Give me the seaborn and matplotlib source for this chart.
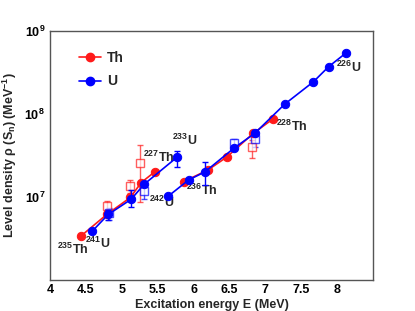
import matplotlib
matplotlib.use('Agg')
import matplotlib.pyplot as plt
import matplotlib.ticker as mticker
from matplotlib.lines import Line2D
import numpy as np
import pandas as pd
import seaborn as sns

# Th chain, filled points (two branches)
th_a_E = [4.43, 4.79, 5.12, 5.27, 5.46]
th_a_rho = [3.35e6, 6.1e6, 9.8e6, 1.48e7, 2.0e7]
th_b_E = [5.86, 6.20, 6.46, 6.83, 7.10]
th_b_rho = [1.52e7, 2.1e7, 3.0e7, 5.8e7, 8.6e7]

# U chain, filled points (two branches)
u_a_E = [4.59, 4.81, 5.13, 5.31, 5.77]
u_a_rho = [3.85e6, 6.1e6, 9.3e6, 1.41e7, 3.0e7]
u_b_E = [5.65, 5.93, 6.16, 6.56, 6.85, 7.27, 7.67, 7.88, 8.12]
u_b_rho = [1.02e7, 1.59e7, 2.0e7, 3.84e7, 5.8e7, 1.31e8, 2.44e8, 3.7e8, 5.4e8]

# error bars on some filled U points
u_err_E = [4.81, 5.13, 5.77, 6.16]
u_err_rho = [6.1e6, 9.3e6, 3.0e7, 2.0e7]
u_err_lo = [5.2e6, 7.6e6, 2.3e7, 1.38e7]
u_err_hi = [7.0e6, 1.2e7, 3.6e7, 2.6e7]

# open squares (experimental values)
th_open_E = [4.79, 5.12, 5.26, 6.81]
th_open_rho = [7.8e6, 1.35e7, 2.57e7, 3.95e7]
th_open_lo = [6.9e6, 1.11e7, 8.7e6, 2.96e7]
th_open_hi = [8.9e6, 1.58e7, 4.2e7, 4.8e7]
u_open_E = [4.82, 5.31, 6.56, 6.85]
u_open_rho = [6.4e6, 1.18e7, 4.4e7, 4.98e7]
u_open_lo = [5.2e6, 9.3e6, 3.8e7, 4.0e7]
u_open_hi = [7.25e6, 1.32e7, 5.0e7, 5.3e7]

# nucleus labels
lab_text = [r'$^{235}$Th', r'$^{241}$U', r'$^{227}$Th', r'$^{233}$U',
            r'$^{242}$U', r'$^{236}$Th', r'$^{228}$Th', r'$^{226}$U']
lab_E = [4.10, 4.49, 5.30, 5.70, 5.38, 5.89, 7.15, 7.99]
lab_rho = [2.3e6, 2.75e6, 3.0e7, 4.8e7, 8.6e6, 1.2e7, 7.0e7, 3.6e8]

RED = '#ff1a1a'
BLUE = '#0000ff'

sns.set_theme(style='white')
plt.rcParams['font.family'] = ['Liberation Sans', 'DejaVu Sans']
plt.rcParams['font.weight'] = 'bold'
plt.rcParams['mathtext.default'] = 'regular'

fig = plt.figure(figsize=(4.15, 3.11), dpi=100)
ax = fig.add_axes([0.1205, 0.101, 0.7785, 0.7995])

# open squares with error bars
for E, r, lo, hi, c in [(th_open_E, th_open_rho, th_open_lo, th_open_hi, RED),
                        (u_open_E, u_open_rho, u_open_lo, u_open_hi, BLUE)]:
    r = np.array(r)
    yerr = [r - np.array(lo), np.array(hi) - r]
    ax.errorbar(E, r, yerr=yerr, fmt='s', ms=6, mfc='white', mec=c, ecolor=c,
                elinewidth=1, capsize=2, mew=1, alpha=0.7, zorder=2)

# filled series
series = [('Th', 'a', th_a_E, th_a_rho), ('Th', 'b', th_b_E, th_b_rho),
          ('U', 'a', u_a_E, u_a_rho), ('U', 'b', u_b_E, u_b_rho)]
frames = []
for nuc, br, E, r in series:
    frames.append(pd.DataFrame({'E': E, 'rho': r, 'nuc': nuc, 'branch': nuc + br}))
df = pd.concat(frames, ignore_index=True)

for key, sub in df.groupby('branch', sort=True):
    c = RED if key.startswith('Th') else BLUE
    sns.lineplot(data=sub, x='E', y='rho', color=c, marker='o', markersize=6,
                 markeredgecolor=c, linewidth=1.2, estimator=None, ax=ax,
                 zorder=4 if c == BLUE else 3)

ue = np.array(u_err_rho)
ax.errorbar(u_err_E, ue, yerr=[ue - np.array(u_err_lo), np.array(u_err_hi) - ue],
            fmt='none', ecolor=BLUE, elinewidth=1, capsize=2, zorder=4)

for t, x, y in zip(lab_text, lab_E, lab_rho):
    ax.text(x, y, t, fontsize=9, fontweight='bold', va='center', ha='left')

ax.set_yscale('log')
ax.set_xlim(4, 8.5)
ax.set_ylim(1e6, 1e9)
ax.xaxis.set_major_locator(mticker.FixedLocator([4, 4.5, 5, 5.5, 6, 6.5, 7, 7.5, 8, 8.5]))
ax.xaxis.set_minor_locator(mticker.MultipleLocator(0.1))
ax.xaxis.set_major_formatter(mticker.FuncFormatter(lambda v, p: '' if v > 8.2 else f'{v:g}'))
ax.yaxis.set_major_locator(mticker.LogLocator(base=10, numticks=10))
ax.yaxis.set_minor_locator(mticker.LogLocator(base=10, subs=np.arange(2, 10), numticks=10))
ax.yaxis.set_major_formatter(mticker.FuncFormatter(
    lambda v, p: '' if v < 5e6 else r'$10^{%d}$' % round(np.log10(v))))
ax.yaxis.set_minor_formatter(mticker.NullFormatter())
ax.tick_params(which='both', direction='in', labelsize=9, colors='black')
ax.tick_params(which='major', length=7, width=0.8)
ax.tick_params(which='minor', length=4, width=0.8)
for s in ax.spines.values():
    s.set_color('#555555')
    s.set_linewidth(1)

ax.set_xlabel('Excitation energy E (MeV)', fontsize=9, fontweight='bold', labelpad=2)
ax.set_ylabel(r'Level density $\rho$ (S$_n$) (MeV$^{-1}$)', fontsize=9,
              fontweight='bold', labelpad=4)

handles = [Line2D([], [], color=RED, marker='o', ms=6, lw=1.2),
           Line2D([], [], color=BLUE, marker='o', ms=6, lw=1.2)]
ax.legend(handles, ['Th', 'U'], loc='upper left', bbox_to_anchor=(0.09, 0.918),
          frameon=False, handlelength=1.6, handletextpad=0.4, labelspacing=0.65,
          borderaxespad=0, borderpad=0, prop={'weight': 'bold', 'size': 10})

fig.savefig('out.png', dpi=100)
